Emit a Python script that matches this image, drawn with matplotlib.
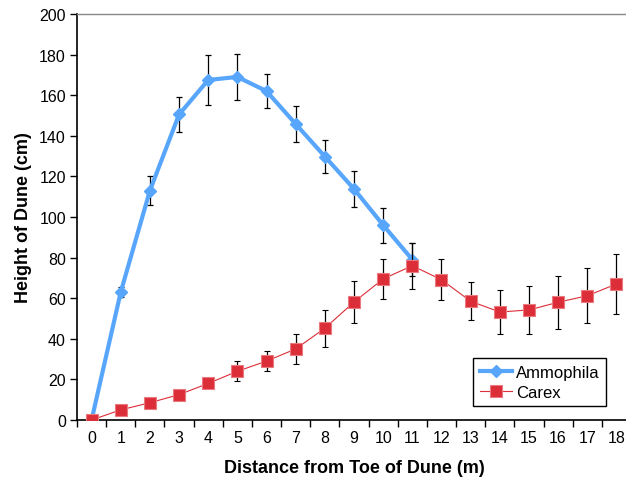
"""Dune height profile: Ammophila vs Carex."""

import matplotlib

matplotlib.use("Agg")
import matplotlib.pyplot as plt
from matplotlib.lines import Line2D
from matplotlib.ticker import MultipleLocator

plt.rcParams.update({"font.family": ["Liberation Sans", "DejaVu Sans"]})

distance = list(range(19))
ammophila = [0, 63, 113, 150.5, 167.5, 169, 162, 145.8, 129.8, 113.8, 96, 79]
ammophila_err = [0, 2.5, 7, 8.5, 12.5, 11.5, 8.5, 9, 8, 8.7, 8.6, 8]
carex = [0, 5, 8.5, 12.5, 18, 24, 29, 35, 45.2, 58.1, 69.5, 76,
         69.1, 58.5, 53.2, 54.2, 58, 61.2, 67]
carex_err = [0, 0, 0, 0, 0, 5, 5, 7.2, 9.1, 10.5, 10, 11.3,
             10.1, 9.3, 11, 12, 13, 13.5, 14.8]

BLUE = "#58a6fb"
RED = "#dc2e38"
RED_EDGE = "#ea7a80"

fig = plt.figure(figsize=(6.26, 4.85), dpi=100)
ax = fig.add_axes([77 / 626, 64 / 485, 554 / 626, 406 / 485])

blue_style = dict(color=BLUE, lw=3, marker="D", ms=6.5, mec=BLUE)
red_style = dict(color=RED, lw=0.8, marker="s", ms=8.5, mfc=RED, mec=RED_EDGE, mew=0.8)
err_style = dict(ecolor="black", elinewidth=0.9, capsize=2.3, capthick=0.9)

ax.errorbar(distance[:len(ammophila)], ammophila, yerr=ammophila_err,
            **blue_style, **err_style, zorder=3)
ax.errorbar(distance, carex, yerr=carex_err, **red_style, **err_style, zorder=4)

ax.set_xlim(-0.5, 18.5)
ax.set_ylim(0, 200)
ax.set_xticks(distance)
ax.xaxis.set_minor_locator(MultipleLocator(1, offset=0.5))
ax.yaxis.set_major_locator(MultipleLocator(20))
ax.tick_params(axis="x", which="major", length=0, pad=7, labelsize=11.5)
ax.tick_params(axis="x", which="minor", length=5, width=1, direction="out")
ax.tick_params(axis="y", length=5, width=1, labelsize=11.5, pad=3)

for side in ("top", "right"):
    ax.spines[side].set_color("#888888")
    ax.spines[side].set_linewidth(1)
for side in ("left", "bottom"):
    ax.spines[side].set_linewidth(1.2)

ax.set_xlabel("Distance from Toe of Dune (m)", fontsize=13, fontweight="bold", labelpad=10)
ax.set_ylabel("Height of Dune (cm)", fontsize=13, fontweight="bold", labelpad=5)

handles = [Line2D([], [], **blue_style), Line2D([], [], **red_style)]
leg = ax.legend(handles, ["Ammophila", "Carex"], loc="lower right",
                bbox_to_anchor=(0.955, 0.034), borderaxespad=0, fontsize=12,
                fancybox=False, edgecolor="black", framealpha=1,
                handlelength=1.9, borderpad=0.4, labelspacing=0.3, handletextpad=0.25)
leg.get_frame().set_linewidth(1)

fig.savefig("out.png", dpi=100)
